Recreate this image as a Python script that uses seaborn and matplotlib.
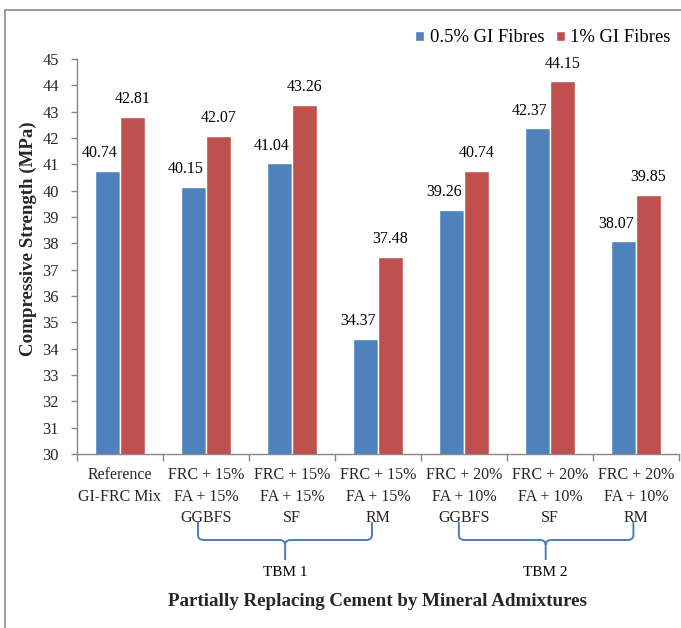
import numpy as np
import pandas as pd
import matplotlib
matplotlib.use("Agg")
import matplotlib.pyplot as plt
import matplotlib.transforms as mtransforms
from matplotlib.path import Path
from matplotlib.patches import PathPatch
import seaborn as sns

# ---------------- data ----------------
mixes = [
    "Reference\nGI-FRC Mix",
    "FRC + 15%\nFA + 15%\nGGBFS",
    "FRC + 15%\nFA + 15%\nSF",
    "FRC + 15%\nFA + 15%\nRM",
    "FRC + 20%\nFA + 10%\nGGBFS",
    "FRC + 20%\nFA + 10%\nSF",
    "FRC + 20%\nFA + 10%\nRM",
]
series_names = ["0.5% GI Fibres", "1% GI Fibres"]
half_pct = [40.74, 40.15, 41.04, 34.37, 39.26, 42.37, 38.07]
one_pct = [42.81, 42.07, 43.26, 37.48, 40.74, 44.15, 39.85]
y_ticks = list(range(30, 46))
group_names = ["TBM 1", "TBM 2"]
x_title = "Partially Replacing Cement by Mineral Admixtures"
y_title = "Compressive Strength (MPa)"

df = pd.DataFrame({
    "mix": mixes * 2,
    "strength": half_pct + one_pct,
    "fibre": [series_names[0]] * len(mixes) + [series_names[1]] * len(mixes),
})

# ---------------- style ----------------
sns.set_style("white")
plt.rcParams["font.family"] = ["Liberation Serif", "DejaVu Serif"]
plt.rcParams["text.color"] = "black"

W, H = 681, 628
fig = plt.figure(figsize=(W / 100, H / 100), dpi=100, facecolor="white")

ax_l, ax_r, ax_t, ax_b = 77, 679, 59, 454
ax = fig.add_axes([ax_l / W, 1 - ax_b / H, (ax_r - ax_l) / W, (ax_b - ax_t) / H])

blue, red = "#4F81BD", "#C0504D"
sns.barplot(data=df, x="mix", y="strength", hue="fibre", order=mixes,
            hue_order=series_names, palette=[blue, red], width=0.57, gap=0,
            saturation=1, errorbar=None, ax=ax)

ax.set_ylim(30, 45)
ax.set_xlim(-0.5, len(mixes) - 0.5)
ax.set_yticks(y_ticks)
ax.set_yticklabels([str(t) for t in y_ticks])

grey = "#868686"
for s in ["top", "right"]:
    ax.spines[s].set_visible(False)
for s in ["left", "bottom"]:
    ax.spines[s].set_color(grey)
    ax.spines[s].set_linewidth(1.0)

ax.tick_params(axis="y", direction="out", length=4, width=1, color=grey,
               labelsize=11.8, pad=9, left=True)
ax.tick_params(axis="x", which="major", length=0, labelsize=11.5, pad=9.5)
ax.set_xticks(np.arange(-0.5, len(mixes) + 0.5, 1), minor=True)
ax.tick_params(axis="x", which="minor", direction="out", length=5, width=1,
               color=grey, bottom=True)
for lab in ax.get_xticklabels():
    lab.set_linespacing(1.45)

ax.grid(False)

# data labels (the 0.5% labels sit slightly left of their bars, as in the source)
for i, cont in enumerate(ax.containers):
    texts = ax.bar_label(cont, fmt="%.2f", padding=7, fontsize=11.5)
    if i == 0:
        for t in texts:
            t.xyann = (-5.5, 7)

# axis titles
ax.set_ylabel(y_title, fontsize=13.6, fontweight="bold")
ax.yaxis.set_label_coords((37 - ax_l) / (ax_r - ax_l), (ax_b - 239) / (ax_b - ax_t))
ax.set_xlabel(x_title, fontsize=13.7, fontweight="bold")
ax.xaxis.set_label_coords(0.5, (ax_b - 593) / (ax_b - ax_t))

# legend
handles, labels = ax.get_legend_handles_labels()
if ax.legend_ is not None:
    ax.legend_.remove()
fig.legend(handles, labels, loc="center left",
           bbox_to_anchor=(415 / W, 1 - 38 / H), ncol=2, frameon=False,
           fontsize=13.4, handlelength=0.5, handleheight=0.5,
           handletextpad=0.3, columnspacing=0.6, borderpad=0,
           borderaxespad=0)

# group braces (x in data units, y in figure pixels)
trans = mtransforms.blended_transform_factory(ax.transData, fig.transFigure)

def fy(py):
    return 1 - py / H

def brace(xl, xc, xr, label):
    ytop, yh, ytip = 522, 540, 560
    rx, ry = 0.07, 5
    verts = [
        (xl, fy(ytop)), (xl, fy(yh - ry)), (xl, fy(yh)), (xl + rx, fy(yh)),
        (xc - rx, fy(yh)), (xc, fy(yh)), (xc, fy(yh + ry)), (xc, fy(ytip)),
        (xc, fy(yh + ry)), (xc, fy(yh)), (xc + rx, fy(yh)),
        (xr - rx, fy(yh)), (xr, fy(yh)), (xr, fy(yh - ry)), (xr, fy(ytop)),
    ]
    codes = [
        Path.MOVETO, Path.LINETO, Path.CURVE3, Path.CURVE3,
        Path.LINETO, Path.CURVE3, Path.CURVE3, Path.LINETO,
        Path.MOVETO, Path.CURVE3, Path.CURVE3,
        Path.LINETO, Path.CURVE3, Path.CURVE3, Path.LINETO,
    ]
    patch = PathPatch(Path(verts, codes), facecolor="none", edgecolor="#4A7EBB",
                      linewidth=1.4, transform=trans, clip_on=False)
    ax.add_patch(patch)
    ax.text(xc, fy(572), label, transform=trans, ha="center", va="center",
            fontsize=11, clip_on=False)

brace(0.907, 1.92, 2.93, group_names[0])
brace(3.94, 4.95, 5.97, group_names[1])

# outer chart border (top and left visible)
fig.add_artist(plt.Line2D([5 / W, 1.0], [fy(10), fy(10)], transform=fig.transFigure,
                          color="#8C8C8C", linewidth=1.2))
fig.add_artist(plt.Line2D([5 / W, 5 / W], [0, fy(10)], transform=fig.transFigure,
                          color="#8C8C8C", linewidth=1.2))

fig.savefig("out.png", dpi=100, facecolor="white")
